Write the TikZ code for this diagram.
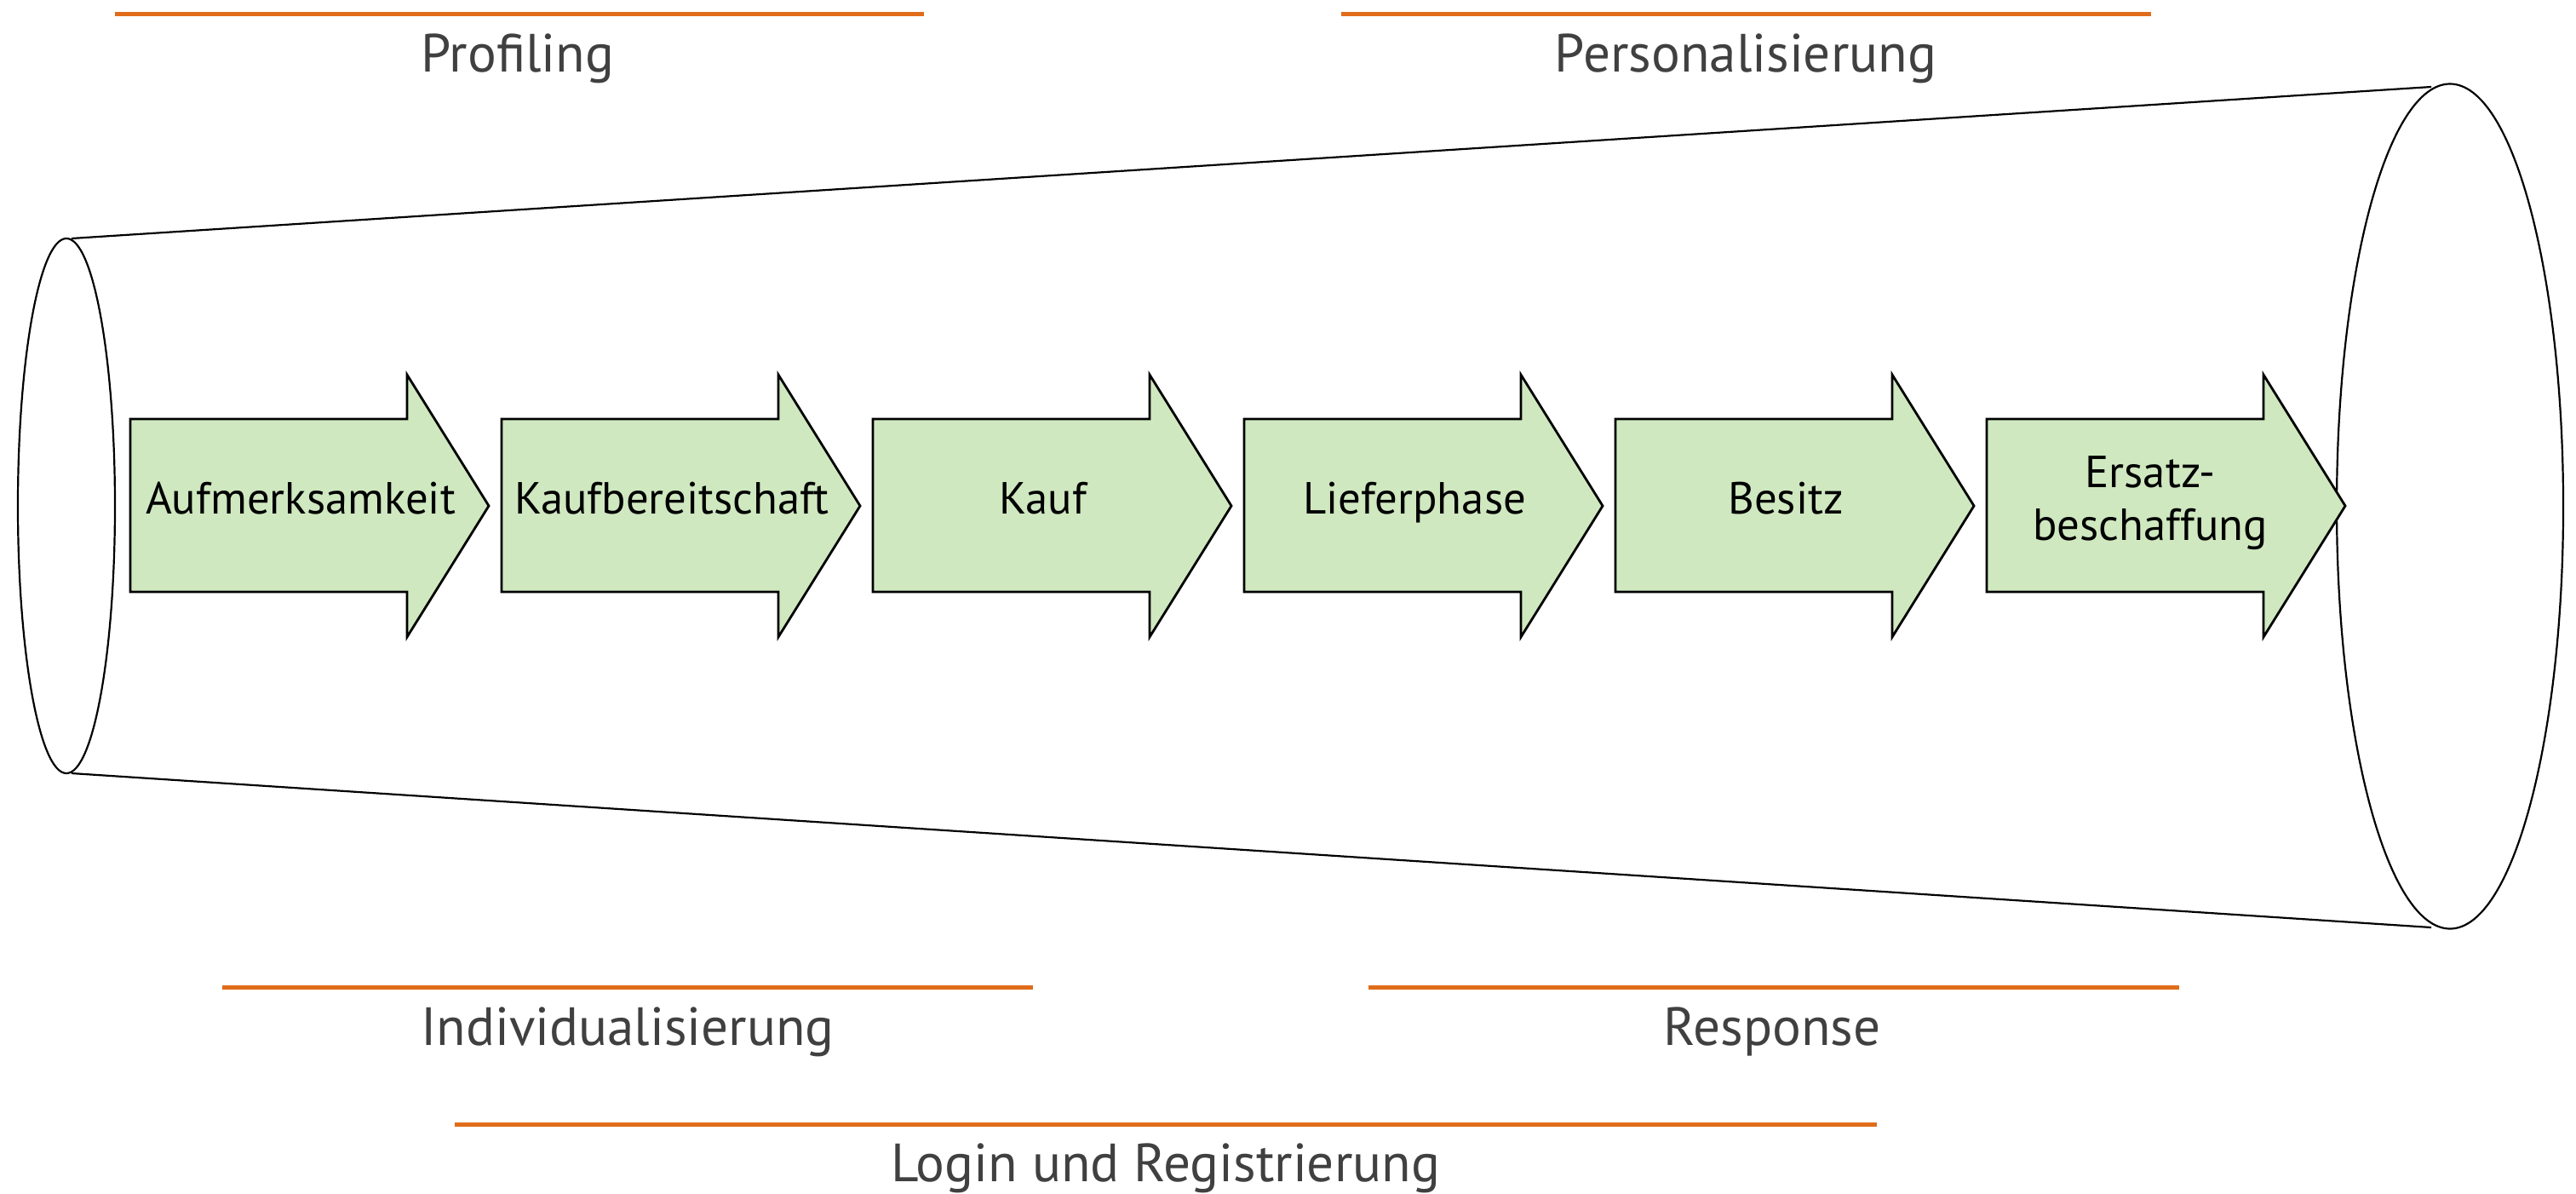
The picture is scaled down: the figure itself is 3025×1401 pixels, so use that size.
\documentclass[tikz,border=0pt]{standalone}
\usepackage{fontspec}
\setmainfont{PT Sans}
\usetikzlibrary{calc}
\definecolor{stepfill}{RGB}{207,232,192}
\definecolor{barorange}{RGB}{224,108,26}
\definecolor{labelgray}{RGB}{64,64,64}
\tikzset{
  stepshape/.style={draw=black, line width=0.7pt, fill=stepfill, line join=miter},
  steptext/.style={font=\fontsize{13.2pt}{16pt}\selectfont, text=black, align=center, inner sep=0pt},
  phasebar/.style={draw=barorange, line width=1.25pt},
  phaselabel/.style={font=\fontsize{15.8pt}{18pt}\selectfont, text=labelgray, inner sep=0pt, anchor=base},
  rim/.style={draw=black, line width=0.55pt},
}
\begin{document}
\begin{tikzpicture}[x=0.25pt, y=-0.25pt]
  \useasboundingbox (0,0) rectangle (3025,1401);

  % funnel: two end rims and the connecting outline
  \coordinate (lc) at (78,594);
  \coordinate (rc) at (2877,594.5);
  \draw[rim] (lc) ellipse [x radius=57, y radius=314];
  \draw[rim] (rc) ellipse [x radius=133, y radius=496];
  \coordinate (lt) at (84,280);
  \coordinate (lb) at (84,908);
  \coordinate (rt) at (2855,102);
  \coordinate (rb) at (2855,1089);
  \draw[rim] (lt) -- (rt);
  \draw[rim] (lb) -- (rb);

  % process steps as block arrows
  \foreach \i/\txt in {0/Aufmerksamkeit,1/Kaufbereitschaft,2/Kauf,3/Lieferphase,4/Besitz}{
    \pgfmathsetmacro{\xo}{153+436*\i}
    \draw[stepshape] (\xo,492) -- (\xo+325,492) -- (\xo+325,440) -- (\xo+421,594)
      -- (\xo+325,748) -- (\xo+325,695) -- (\xo,695) -- cycle;
    \node[steptext, anchor=base] (s\i) at (\xo+200,603) {\txt};
  }
  \draw[stepshape] (2333,492) -- (2658,492) -- (2658,440) -- (2754,594)
    -- (2658,748) -- (2658,695) -- (2333,695) -- cycle;
  \node[steptext, anchor=base] (s5a) at (2525,572) {Ersatz-};
  \node[steptext, anchor=base] (s5b) at (2525,634) {beschaffung};

  % phase bars with their labels
  \draw[phasebar] (135,17) -- (1085,17);
  \node[phaselabel] (profiling) at (608,85) {Profiling};
  \draw[phasebar] (1575,17) -- (2526,17);
  \node[phaselabel] (personal) at (2050,85) {Personalisierung};
  \draw[phasebar] (261,1159) -- (1213,1159);
  \node[phaselabel] (indiv) at (737,1227) {Individualisierung};
  \draw[phasebar] (1607,1159) -- (2559,1159);
  \node[phaselabel] (response) at (2081,1227) {Response};
  \draw[phasebar] (534,1320) -- (2204,1320);
  \node[phaselabel] (login) at (1369,1387) {Login und Registrierung};
\end{tikzpicture}
\end{document}
